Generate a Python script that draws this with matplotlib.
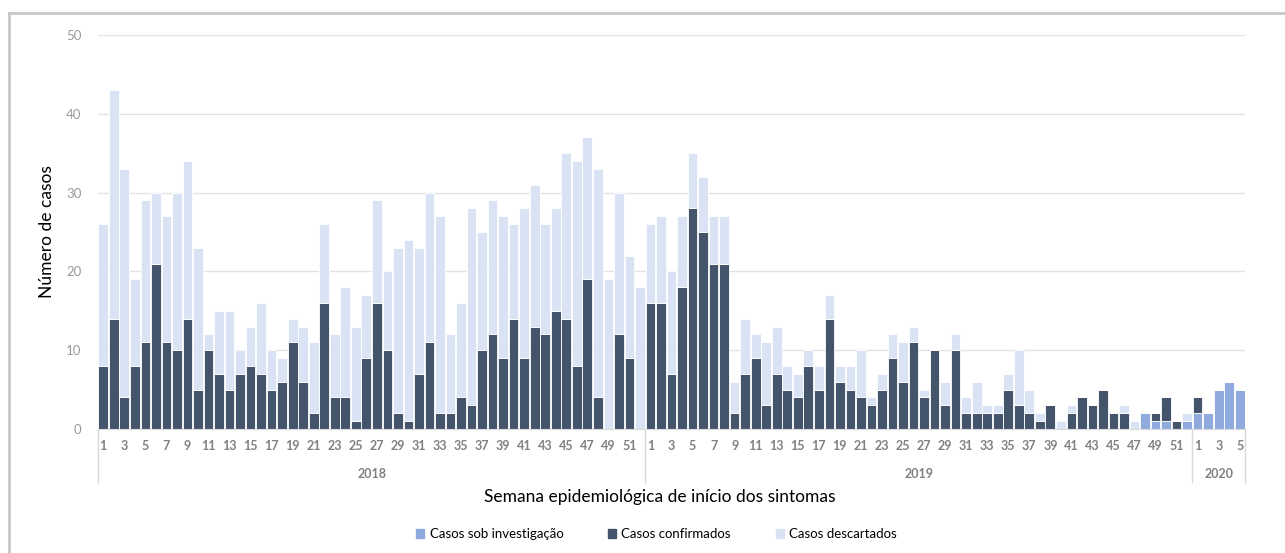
import matplotlib
matplotlib.use("Agg")
import matplotlib.pyplot as plt
from matplotlib.lines import Line2D
from matplotlib.patches import Patch
import matplotlib.transforms as mtransforms
import numpy as np

plt.rcParams["font.family"] = ["Lato", "DejaVu Sans"]

# weekly case counts by epidemiological week of symptom onset
years = ["2018", "2019", "2020"]
weeks_per_year = [52, 52, 5]

confirmed_2018 = [8, 14, 4, 8, 11, 21, 11, 10, 14, 5, 10, 7, 5, 7, 8, 7, 5, 6, 11, 6,
                  2, 16, 4, 4, 1, 9, 16, 10, 2, 1, 7, 11, 2, 2, 4, 3, 10, 12, 9, 14,
                  9, 13, 12, 15, 14, 8, 19, 4, 0, 12, 9, 0]
discarded_2018 = [18, 29, 29, 11, 18, 9, 16, 20, 20, 18, 2, 8, 10, 3, 5, 9, 5, 3, 3, 7,
                  9, 10, 8, 14, 12, 8, 13, 10, 21, 23, 16, 19, 25, 10, 12, 25, 15, 17, 18, 12,
                  19, 18, 14, 13, 21, 26, 18, 29, 19, 18, 13, 18]
investigating_2018 = [0] * 52

confirmed_2019 = [16, 16, 7, 18, 28, 25, 21, 21, 2, 7, 9, 3, 7, 5, 4, 8, 5, 14, 6, 5,
                  4, 3, 5, 9, 6, 11, 4, 10, 3, 10, 2, 2, 2, 2, 5, 3, 2, 1, 3, 0,
                  2, 4, 3, 5, 2, 2, 0, 0, 1, 3, 1, 0]
discarded_2019 = [10, 11, 13, 9, 7, 7, 6, 6, 4, 7, 3, 8, 6, 3, 3, 2, 3, 3, 2, 3,
                  6, 1, 2, 3, 5, 2, 1, 0, 3, 2, 2, 4, 1, 1, 2, 7, 3, 1, 0, 1,
                  1, 0, 0, 0, 0, 1, 1, 0, 0, 0, 0, 1]
investigating_2019 = [0] * 47 + [2, 1, 1, 0, 1]

confirmed_2020 = [2, 0, 0, 0, 0]
discarded_2020 = [0, 0, 0, 0, 0]
investigating_2020 = [2, 2, 5, 6, 5]

c_inv = "#8FAADC"
c_conf = "#44546A"
c_disc = "#DAE3F3"
grey_txt = "#808080"

investigating = np.array(investigating_2018 + investigating_2019 + investigating_2020)
confirmed = np.array(confirmed_2018 + confirmed_2019 + confirmed_2020)
discarded = np.array(discarded_2018 + discarded_2019 + discarded_2020)
week_numbers = [w for n in weeks_per_year for w in range(1, n + 1)]
x = np.arange(len(week_numbers))

fig = plt.figure(figsize=(12.85, 5.53), dpi=100)
ax = fig.add_axes([98 / 1285, 1 - 429 / 553, (1245 - 98) / 1285, (429 - 35) / 553])

bar_kw = dict(width=0.92, edgecolor="white", linewidth=0.6, zorder=3)
ax.bar(x, investigating, color=c_inv, label="Casos sob investigação", **bar_kw)
ax.bar(x, confirmed, bottom=investigating, color=c_conf, label="Casos confirmados", **bar_kw)
ax.bar(x, discarded, bottom=investigating + confirmed, color=c_disc,
       label="Casos descartados", **bar_kw)

ax.set_xlim(-0.5, len(x) - 0.5)
ax.set_ylim(0, 50)
ax.set_yticks(range(0, 51, 10))
ax.yaxis.grid(True, color="#E3E3E3", linewidth=1.0, zorder=0)
ax.tick_params(axis="y", length=0, pad=12, labelsize=9.5, labelcolor="#9A9A9A")
for side in ["top", "right", "left"]:
    ax.spines[side].set_visible(False)
ax.spines["bottom"].set_color("#D9D9D9")
ax.spines["bottom"].set_zorder(4)
ax.set_ylabel("Número de casos", fontsize=12.5, labelpad=8)

# odd week labels, then year groups underneath
tick_pos = [i for i, w in enumerate(week_numbers) if w % 2 == 1]
ax.set_xticks(tick_pos)
ax.set_xticklabels([str(week_numbers[i]) for i in tick_pos], fontsize=9,
                   fontweight="bold", color=grey_txt)
ax.tick_params(axis="x", length=0, pad=8)

trans = mtransforms.blended_transform_factory(ax.transData, ax.transAxes)
edges = np.concatenate([[0], np.cumsum(weeks_per_year)]) - 0.5
for e in edges:
    ax.add_line(Line2D([e, e], [0, -0.135], transform=trans, color="#D9D9D9",
                       linewidth=1.0, clip_on=False))
for year, lo, hi in zip(years, edges[:-1], edges[1:]):
    ax.text((lo + hi) / 2, -0.115, year, transform=trans, ha="center", va="center",
            fontsize=9, fontweight="bold", color=grey_txt)

fig.text(0.5135, 1 - 497 / 553, "Semana epidemiológica de início dos sintomas",
         ha="center", va="center", fontsize=12.5)

handles = [Patch(color=c) for c in (c_inv, c_conf, c_disc)]
fig.legend(handles, ["Casos sob investigação", "Casos confirmados", "Casos descartados"],
           loc="center", bbox_to_anchor=(0.511, 1 - 534 / 553), ncol=3, frameon=False,
           fontsize=9.5, handlelength=0.6, handleheight=0.6, handletextpad=0.4,
           columnspacing=3.4)

# chart area frame (top and left edges)
fig.add_artist(Line2D([9 / 1285, 1.0], [1 - 13 / 553, 1 - 13 / 553], transform=fig.transFigure,
                      color="#C8C8C8", linewidth=2))
fig.add_artist(Line2D([9 / 1285, 9 / 1285], [0, 1 - 13 / 553], transform=fig.transFigure,
                      color="#C8C8C8", linewidth=2))

fig.savefig("out.png", dpi=100)
plt.close(fig)
